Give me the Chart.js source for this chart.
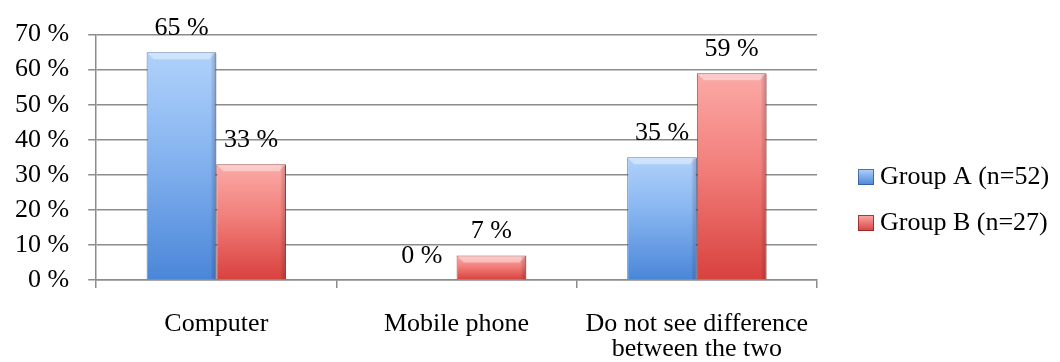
<!DOCTYPE html>
<html>
<head>
<meta charset="utf-8">
<script src="https://cdn.jsdelivr.net/npm/chart.js@4.4.1/dist/chart.umd.min.js"></script>
<style>
  html, body { margin: 0; padding: 0; background: #fff; }
  #wrap { width: 1060px; height: 362px; }
</style>
</head>
<body>
<div id="wrap"><canvas id="chart" width="1060" height="362"></canvas></div>
<script>
const categories = ['Computer', 'Mobile phone', ['Do not see difference', 'between the two']];
const seriesNames = ['Group A (n=52)', 'Group B (n=27)'];
const groupA = [65, 0, 35];
const groupB = [33, 7, 59];
const yTicks = [0, 10, 20, 30, 40, 50, 60, 70];

const FONT = '"Liberation Serif", "DejaVu Serif", serif';
const GRID = '#8c8c8c';

// light top -> saturated bottom, like the old office bevel fills
const palette = [
  { top: '#b0d2fb', mid: '#86b4f0', bottom: '#4a86d8', edge: 'rgba(40,85,155,0.75)' },
  { top: '#fbaaa7', mid: '#f27f7b', bottom: '#d8413e', edge: 'rgba(140,35,33,0.8)' }
];

function barFill(p) {
  return (ctx) => {
    const chart = ctx.chart;
    const area = chart.chartArea;
    if (!area || ctx.type !== 'data') return p.mid;
    const yTop = chart.scales.y.getPixelForValue(ctx.raw);
    if (area.bottom - yTop < 2) return p.bottom;
    const g = chart.ctx.createLinearGradient(0, yTop, 0, area.bottom);
    g.addColorStop(0, p.top);
    g.addColorStop(0.45, p.mid);
    g.addColorStop(1, p.bottom);
    return g;
  };
}

// percentage printed above every bar
const valueLabels = {
  id: 'valueLabels',
  afterDatasetsDraw(chart) {
    const { ctx } = chart;
    ctx.save();
    ctx.font = '26px ' + FONT;
    ctx.fillStyle = '#000';
    ctx.textAlign = 'center';
    ctx.textBaseline = 'alphabetic';
    chart.data.datasets.forEach((ds, i) => {
      chart.getDatasetMeta(i).data.forEach((bar, j) => {
        ctx.fillText(ds.data[j] + ' %', bar.x, bar.y - 17);
      });
    });
    ctx.restore();
  }
};

// small bevel: light band along the top, darker strip on the right side
const bevel = {
  id: 'bevel',
  afterDatasetsDraw(chart) {
    const { ctx } = chart;
    ctx.save();
    chart.data.datasets.forEach((ds, i) => {
      chart.getDatasetMeta(i).data.forEach((bar) => {
        const h = bar.base - bar.y;
        if (h < 6) return;
        const left = bar.x - bar.width / 2;
        const right = bar.x + bar.width / 2;
        ctx.fillStyle = 'rgba(255,255,255,0.4)';
        ctx.beginPath();
        ctx.moveTo(left + 1, bar.y + 1);
        ctx.lineTo(right - 1, bar.y + 1);
        ctx.lineTo(right - 7, bar.y + 7);
        ctx.lineTo(left + 7, bar.y + 7);
        ctx.closePath();
        ctx.fill();
        const g = ctx.createLinearGradient(right - 6, 0, right, 0);
        g.addColorStop(0, 'rgba(0,0,0,0)');
        g.addColorStop(1, 'rgba(60,10,10,0.25)');
        ctx.fillStyle = g;
        ctx.fillRect(right - 6, bar.y + 1, 6, h - 1);
      });
    });
    ctx.restore();
  }
};

// legend on the right, square swatch + series name
const sideLegend = {
  id: 'sideLegend',
  afterDraw(chart) {
    const { ctx } = chart;
    ctx.save();
    ctx.font = '26px ' + FONT;
    ctx.textBaseline = 'middle';
    chart.data.datasets.forEach((ds, i) => {
      const cy = 177 + i * 46;
      const p = palette[i];
      const g = ctx.createLinearGradient(0, cy - 8, 0, cy + 8);
      g.addColorStop(0, p.top);
      g.addColorStop(1, p.bottom);
      ctx.fillStyle = g;
      ctx.fillRect(858, cy - 8, 16, 16);
      ctx.strokeStyle = p.edge;
      ctx.lineWidth = 1;
      ctx.strokeRect(858.5, cy - 7.5, 15, 15);
      ctx.fillStyle = '#000';
      ctx.fillText(ds.label, 880, cy);
    });
    ctx.restore();
  }
};

new Chart(document.getElementById('chart'), {
  type: 'bar',
  data: {
    labels: categories,
    datasets: [groupA, groupB].map((values, i) => ({
      label: seriesNames[i],
      data: values,
      backgroundColor: barFill(palette[i]),
      borderColor: palette[i].edge,
      borderWidth: 1,
      borderSkipped: 'bottom',
      barPercentage: 1,
      categoryPercentage: 0.58
    }))
  },
  options: {
    responsive: false,
    animation: false,
    layout: { padding: { top: 17, left: -4, right: 243, bottom: -24 } },
    plugins: {
      legend: { display: false },
      tooltip: { enabled: false }
    },
    scales: {
      x: {
        offset: true,
        grid: {
          offset: true,
          drawOnChartArea: false,
          tickLength: 8,
          color: GRID,
          lineWidth: 1.5
        },
        border: { color: GRID, width: 1.5 },
        ticks: {
          color: '#000',
          padding: 24,
          maxRotation: 0,
          autoSkip: false,
          font: { family: FONT, size: 26, lineHeight: 25 / 26 }
        }
      },
      y: {
        min: 0,
        max: 70,
        afterBuildTicks: (scale) => { scale.ticks = yTicks.map(v => ({ value: v })); },
        grid: { color: GRID, lineWidth: 1.5, tickLength: 8 },
        border: { color: GRID, width: 1.5 },
        ticks: {
          color: '#000',
          padding: 19,
          autoSkip: false,
          font: { family: FONT, size: 26 },
          callback: (v) => v + ' %'
        }
      }
    }
  },
  plugins: [bevel, valueLabels, sideLegend]
});
</script>
</body>
</html>
